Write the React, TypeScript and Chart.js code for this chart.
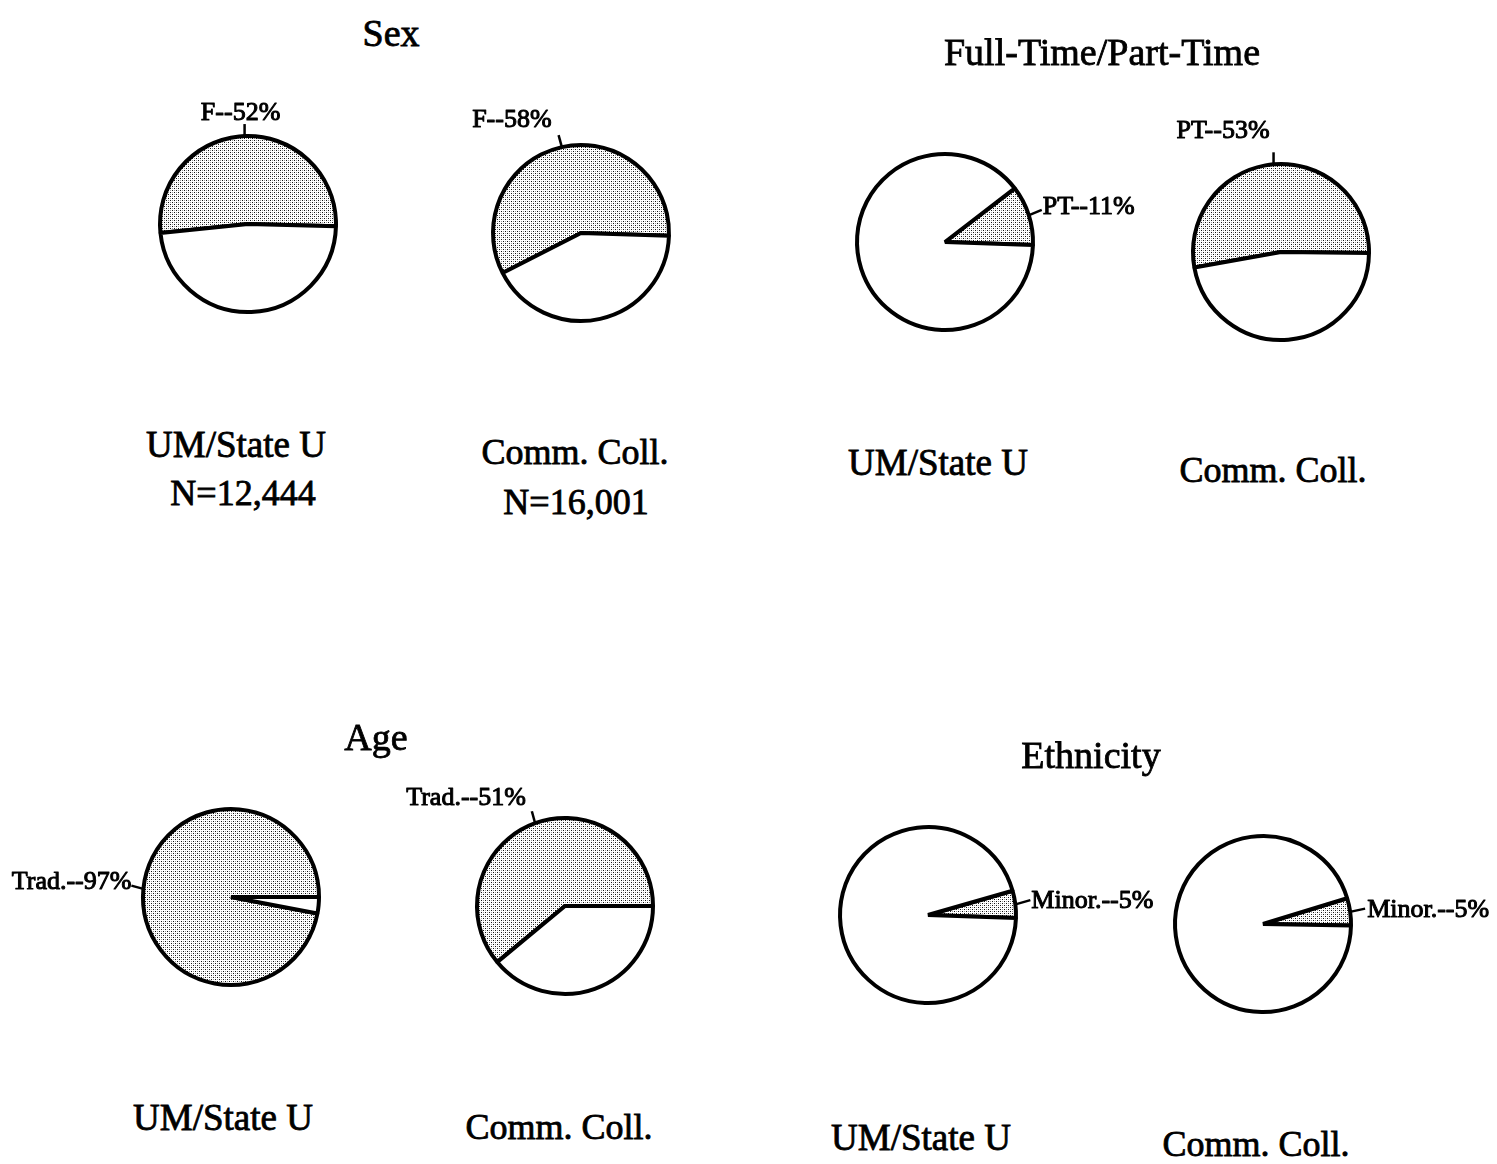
import React, { useEffect, useRef } from "react";
import { Chart, registerables } from "chart.js";

Chart.register(...registerables);

// ---------- data ----------
const sexCategories = ["F", "M"];
const sexUMValues = [52, 48];
const sexCCValues = [58, 42];

const ftCategories = ["PT", "FT"];
const ftUMValues = [11, 89];
const ftCCValues = [53, 47];

const ageCategories = ["Trad.", "Non-trad."];
const ageUMValues = [97, 3];
const ageCCValues = [61, 39]; // slice as drawn in the figure (label printed as 51%)

const ethCategories = ["Minor.", "Non-minor."];
const ethUMValues = [5, 95];
const ethCCValues = [5, 95];

const sliceLabels = [
  "F--52%",
  "F--58%",
  "PT--11%",
  "PT--53%",
  "Trad.--97%",
  "Trad.--51%",
  "Minor.--5%",
  "Minor.--5%",
];

const groupTitles = ["Sex", "Full-Time/Part-Time", "Age", "Ethnicity"];
const schoolNames = ["UM/State U", "Comm. Coll."];
const sampleSizes = ["N=12,444", "N=16,001"];

// ---------- layout ----------
const W = 480;
const H = 340;
const R = 88;

type PieSpec = {
  cats: string[];
  values: number[];
  label: string;
  cx: number;
  cy: number;
  rotation: number;
  shaded: number;
  line: [number, number];
  align: CanvasTextAlign;
  textOff: [number, number];
};

const pies: PieSpec[] = [
  { cats: sexCategories, values: sexUMValues, label: sliceLabels[0], cx: 248, cy: 224, rotation: 264.2, shaded: 0, line: [0, -11], align: "center", textOff: [-4, -4] },
  { cats: sexCategories, values: sexCCValues, label: sliceLabels[1], cx: 581, cy: 233, rotation: 243, shaded: 0, line: [-3, -11], align: "right", textOff: [-7, -8] },
  { cats: ftCategories, values: ftUMValues, label: sliceLabels[2], cx: 945, cy: 242, rotation: 52.4, shaded: 0, line: [12, -5], align: "left", textOff: [1, 4] },
  { cats: ftCategories, values: ftCCValues, label: sliceLabels[3], cx: 1281, cy: 252, rotation: 259.8, shaded: 0, line: [0, -11], align: "right", textOff: [-4, -14] },
  { cats: ageCategories, values: ageUMValues, label: sliceLabels[4], cx: 231, cy: 897, rotation: 100.8, shaded: 0, line: [-11, -3], align: "right", textOff: [0, 3] },
  { cats: ageCategories, values: ageCCValues, label: sliceLabels[5], cx: 565, cy: 906, rotation: 230.4, shaded: 0, line: [-3, -11], align: "right", textOff: [-6, -6] },
  { cats: ethCategories, values: ethUMValues, label: sliceLabels[6], cx: 928, cy: 915, rotation: 74, shaded: 0, line: [14, -4], align: "left", textOff: [1, 8] },
  { cats: ethCategories, values: ethCCValues, label: sliceLabels[7], cx: 1263, cy: 924, rotation: 73, shaded: 0, line: [14, -3], align: "left", textOff: [2, 8] },
];

type Caption = { text: string; x: number; y: number; size: number };

const captions: Caption[] = [
  { text: groupTitles[0], x: 391, y: 33, size: 38 },
  { text: groupTitles[1], x: 1102, y: 52, size: 38 },
  { text: schoolNames[0], x: 236, y: 444, size: 37 },
  { text: sampleSizes[0], x: 243, y: 493, size: 36 },
  { text: schoolNames[1], x: 575, y: 452, size: 36 },
  { text: sampleSizes[1], x: 576, y: 502, size: 36 },
  { text: schoolNames[0], x: 938, y: 462, size: 37 },
  { text: schoolNames[1], x: 1273, y: 470, size: 36 },
  { text: groupTitles[2], x: 376, y: 737, size: 38 },
  { text: groupTitles[3], x: 1091, y: 755, size: 38 },
  { text: schoolNames[0], x: 223, y: 1117, size: 37 },
  { text: schoolNames[1], x: 559, y: 1127, size: 36 },
  { text: schoolNames[0], x: 921, y: 1137, size: 37 },
  { text: schoolNames[1], x: 1256, y: 1144, size: 36 },
];

function makePattern(): CanvasPattern | string {
  const c = document.createElement("canvas");
  c.width = 4;
  c.height = 4;
  const g = c.getContext("2d");
  if (!g) return "#d4d4d4";
  g.fillStyle = "#ffffff";
  g.fillRect(0, 0, 4, 4);
  g.fillStyle = "#111111";
  g.fillRect(0, 0, 1, 1);
  g.fillRect(2, 2, 1, 1);
  g.fillStyle = "#999999";
  g.fillRect(2, 0, 1, 1);
  g.fillRect(0, 2, 1, 1);
  const p = g.createPattern(c, "repeat");
  return p || "#d4d4d4";
}

function labelPlugin(spec: PieSpec) {
  return {
    id: "sliceLabel",
    afterDatasetsDraw(chart: any) {
      const ctx: CanvasRenderingContext2D = chart.ctx;
      const arc: any = chart.getDatasetMeta(0).data[spec.shaded];
      if (!arc) return;
      const { x, y, startAngle, endAngle, outerRadius } = arc.getProps(
        ["x", "y", "startAngle", "endAngle", "outerRadius"],
        true
      );
      const mid = (startAngle + endAngle) / 2;
      const ex = x + Math.cos(mid) * (outerRadius + 1);
      const ey = y + Math.sin(mid) * (outerRadius + 1);
      const lx = ex + spec.line[0];
      const ly = ey + spec.line[1];
      ctx.save();
      ctx.strokeStyle = "#000";
      ctx.lineWidth = 2.5;
      ctx.beginPath();
      ctx.moveTo(ex, ey);
      ctx.lineTo(lx, ly);
      ctx.stroke();
      ctx.font = "26px 'Liberation Serif', 'Times New Roman', serif";
      ctx.fillStyle = "#000";
      ctx.textAlign = spec.align;
      ctx.textBaseline = "alphabetic";
      const tx = lx + spec.textOff[0];
      const ty = ly + spec.textOff[1];
      ctx.lineWidth = 1;
      ctx.lineJoin = "round";
      ctx.strokeText(spec.label, tx, ty);
      ctx.fillText(spec.label, tx, ty);
      ctx.restore();
    },
  };
}

function PieChart({ spec }: { spec: PieSpec }) {
  const ref = useRef<HTMLCanvasElement>(null);
  useEffect(() => {
    if (!ref.current) return;
    const pattern = makePattern();
    const chart = new Chart(ref.current, {
      type: "pie",
      data: {
        labels: spec.cats,
        datasets: [
          {
            data: spec.values,
            backgroundColor: spec.values.map((_, i) => (i === spec.shaded ? pattern : "#ffffff")) as any,
            borderColor: "#000000",
            borderWidth: 4,
          },
        ],
      },
      options: {
        responsive: false,
        maintainAspectRatio: false,
        animation: false,
        events: [],
        rotation: spec.rotation,
        radius: R,
        layout: { padding: 0 },
        plugins: {
          legend: { display: false },
          tooltip: { enabled: false },
          title: { display: false },
        },
      } as any,
      plugins: [labelPlugin(spec)],
    });
    return () => chart.destroy();
  }, [spec]);
  return (
    <canvas
      ref={ref}
      width={W}
      height={H}
      style={{
        position: "absolute",
        left: spec.cx - W / 2,
        top: spec.cy - H / 2,
        width: W,
        height: H,
      }}
    />
  );
}

export default function App() {
  return (
    <div
      style={{
        position: "absolute",
        left: 0,
        top: 0,
        width: 1497,
        height: 1164,
        overflow: "hidden",
        background: "#ffffff",
        fontFamily: "'Liberation Serif', 'Times New Roman', serif",
      }}
    >
      {pies.map((p, i) => (
        <PieChart key={i} spec={p} />
      ))}
      {captions.map((c, i) => (
        <div
          key={"c" + i}
          style={{
            position: "absolute",
            left: c.x,
            top: c.y,
            transform: "translate(-50%, -50%)",
            fontSize: c.size,
            lineHeight: 1,
            whiteSpace: "nowrap",
            color: "#000",
            WebkitTextStroke: "0.8px #000",
          }}
        >
          {c.text}
        </div>
      ))}
    </div>
  );
}
